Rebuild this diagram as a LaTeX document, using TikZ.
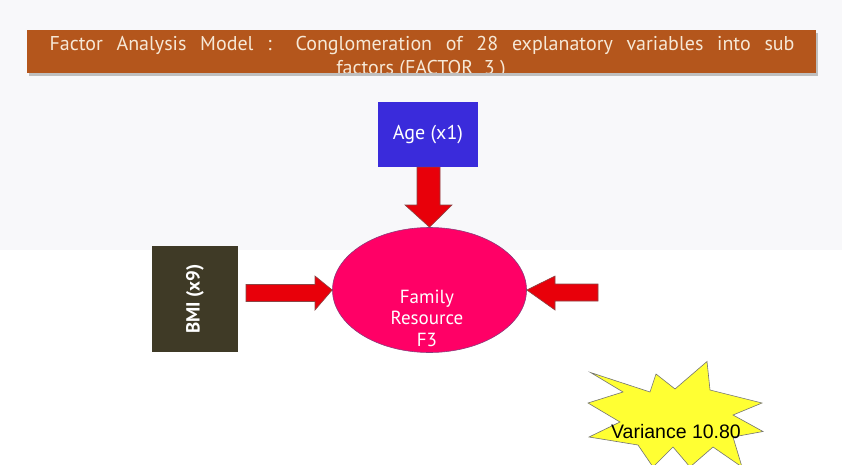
\documentclass[tikz,border=0pt]{standalone}
\usepackage{fontspec}
\setmainfont{PT Sans}
\newfontfamily\arialfont{Liberation Sans}
\usetikzlibrary{shapes.geometric}
\definecolor{titlebrown}{HTML}{B4561C}
\definecolor{titletext}{HTML}{F6E8D6}
\definecolor{agebox}{HTML}{3A2BDB}
\definecolor{bmibox}{HTML}{3F3A26}
\definecolor{factorpink}{HTML}{FF0066}
\definecolor{factoredge}{HTML}{8C3A7A}
\definecolor{arrowred}{HTML}{E8000A}
\definecolor{arrowedge}{HTML}{8A4545}
\definecolor{burst}{HTML}{FFFF33}
\definecolor{bandgray}{HTML}{F8F8FA}
\tikzset{
  varbox/.style={draw=none, inner sep=0pt, text=white, font=\fontsize{20}{24}\selectfont},
  blockarrow/.style={fill=arrowred, draw=arrowedge, line width=0.6pt, line join=miter},
}
\begin{document}
\begin{tikzpicture}[x=1pt,y=-1pt]
  % page and background bands
  \useasboundingbox (0,0) rectangle (842,465);
  \fill[white] (0,0) rectangle (842,465);
  \fill[bandgray] (0,0) rectangle (842,250);

  % title bar
  \fill[black!25] (29,33) rectangle (818,76);
  \fill[titlebrown] (27,30) rectangle (816,73);
  \begin{scope}
    \clip (27,30) rectangle (816,73);
    \node[text=titletext, font=\fontsize{20}{24}\selectfont, anchor=base] (title1) at (422,51)
      {\makebox[745pt][s]{Factor Analysis Model : Conglomeration of 28 explanatory variables into sub}};
    \node[text=titletext, font=\fontsize{20}{24}\selectfont, anchor=base] (title2) at (421,75)
      {factors (FACTOR\ \ 3 )};
  \end{scope}

  % variable boxes
  \node[varbox, fill=agebox, minimum width=100pt, minimum height=65pt] (age) at (428,134.5) {Age (x1)};
  \node[varbox, fill=bmibox, minimum width=86pt, minimum height=106pt] (bmi) at (195,299) {};
  \node[varbox, rotate=90, font=\fontsize{19}{22}\selectfont\bfseries] (bmilabel) at (bmi.center) {BMI (x9)};

  % factor ellipse
  \node[ellipse, fill=factorpink, draw=factoredge, line width=0.6pt,
        minimum width=194pt, minimum height=125pt, inner sep=0pt] (f3) at (429.5,290) {};
  \node[text=white, align=center, font=\fontsize{19}{21.5}\selectfont] (f3label) at (427,318)
    {Family\\Resource\\F3};

  % block arrows into the factor
  \draw[blockarrow] (age.south -| 417,0) -- (417,205) -- (405,205) -- (f3.north)
    -- (452,205) -- (440,205) -- (age.south -| 440,0) -- cycle;
  \draw[blockarrow] (246,284.5) -- (315,284.5) -- (315,276) -- (f3.west)
    -- (315,310) -- (315,301.5) -- (246,301.5) -- cycle;
  \draw[blockarrow] (598,284) -- (555,284) -- (555,276) -- (f3.east)
    -- (555,310) -- (555,301) -- (598,301) -- cycle;

  % variance starburst
  \draw[fill=burst, draw=black!55, line width=0.6pt]
    (590.5,372.5) -- (650,392) -- (656,374) -- (675,389) -- (707,361.5) -- (710,390)
    -- (762,403) -- (733,415) -- (763,431.5) -- (733,437) -- (742,467) -- (713,447)
    -- (690,467) -- (673,447) -- (653,467) -- (638,445) -- (589,437) -- (620,422)
    -- (588,403) -- (623,392) -- cycle;
  \node[font=\arialfont\fontsize{19.5}{22}\selectfont, text=black, anchor=base] (variance) at (676,438)
    {Variance 10.80};
\end{tikzpicture}
\end{document}
